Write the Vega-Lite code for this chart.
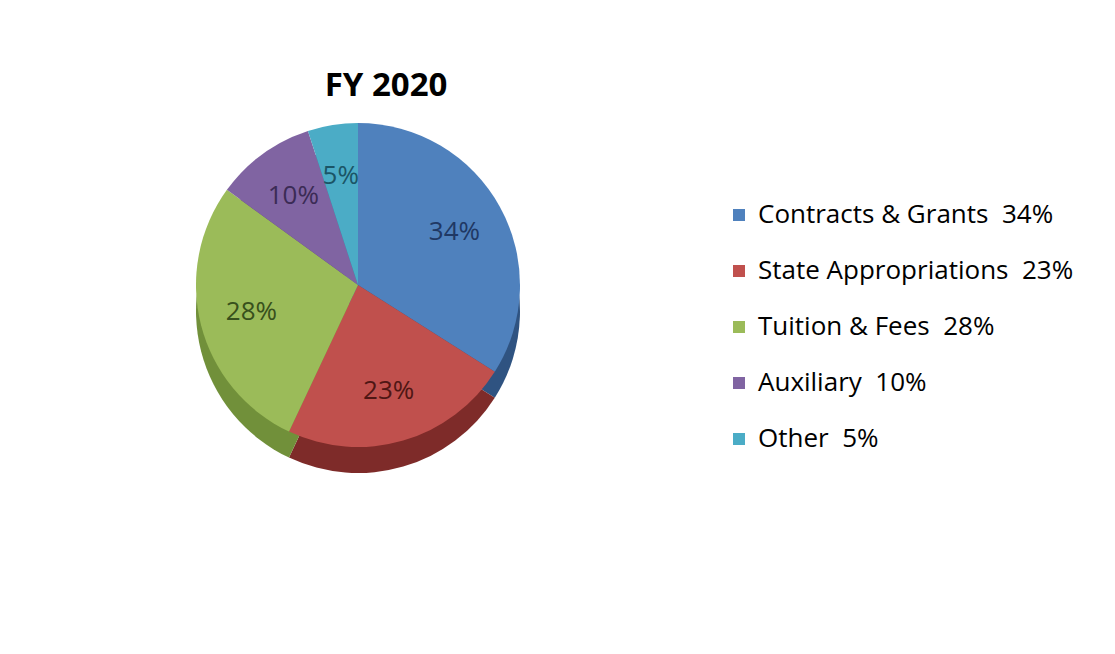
{
  "$schema": "https://vega.github.io/schema/vega-lite/v6.json",
  "autosize": "none",
  "width": 716,
  "height": 370,
  "padding": {"left": 0, "top": 100, "right": 399, "bottom": 184},
  "background": "white",
  "config": {"view": {"stroke": null}, "font": "Open Sans"},
  "title": {"text": "FY 2020", "fontSize": 33, "fontWeight": "bold", "font": "Open Sans", "color": "#000000", "anchor": "middle", "dx": 28, "offset": -3},
  "data": {"values": [
    {"source": "Contracts & Grants", "legendLabel": "Contracts & Grants\u00a0\u00a034%", "share": 0.34, "order": 1},
    {"source": "State Appropriations", "legendLabel": "State Appropriations\u00a0\u00a023%", "share": 0.23, "order": 2},
    {"source": "Tuition & Fees", "legendLabel": "Tuition & Fees\u00a0\u00a028%", "share": 0.28, "order": 3},
    {"source": "Auxiliary", "legendLabel": "Auxiliary\u00a0\u00a010%", "share": 0.10, "order": 4},
    {"source": "Other", "legendLabel": "Other\u00a0\u00a05%", "share": 0.05, "order": 5}
  ]},
  "layer": [
    {
      "mark": {"type": "arc", "outerRadius": 162, "yOffset": 26},
      "encoding": {
        "theta": {"field": "share", "type": "quantitative", "stack": true},
        "order": {"field": "order", "type": "quantitative"},
        "fill": {"field": "source", "type": "nominal", "legend": null,
          "scale": {"domain": ["Contracts & Grants", "State Appropriations", "Tuition & Fees", "Auxiliary", "Other"],
                    "range": ["#2f5381", "#7e2b29", "#71903a", "#5b4578", "#2f8098"]}}
      }
    },
    {
      "mark": {"type": "arc", "outerRadius": 162},
      "encoding": {
        "theta": {"field": "share", "type": "quantitative", "stack": true},
        "order": {"field": "order", "type": "quantitative"},
        "color": {"field": "legendLabel", "type": "nominal",
          "scale": {"domain": ["Contracts & Grants\u00a0\u00a034%", "State Appropriations\u00a0\u00a023%", "Tuition & Fees\u00a0\u00a028%", "Auxiliary\u00a0\u00a010%", "Other\u00a0\u00a05%"],
                    "range": ["#4f81bd", "#c0504d", "#9bbb59", "#8064a2", "#4bacc6"]},
          "legend": {"orient": "none", "legendX": 726, "legendY": 102, "title": null, "symbolType": "square", "symbolSize": 144,
            "symbolStrokeWidth": 0, "labelFontSize": 26, "labelFont": "Open Sans", "labelColor": "#000000", "rowPadding": 30,
            "labelOffset": 6, "labelLimit": 0, "padding": 0}}
      }
    },
    {
      "mark": {"type": "text", "radius": 110, "fontSize": 26, "font": "Open Sans"},
      "encoding": {
        "theta": {"field": "share", "type": "quantitative", "stack": true},
        "order": {"field": "order", "type": "quantitative"},
        "text": {"field": "share", "type": "quantitative", "format": ".0%"},
        "fill": {"field": "source", "type": "nominal", "legend": null,
          "scale": {"domain": ["Contracts & Grants", "State Appropriations", "Tuition & Fees", "Auxiliary", "Other"],
                    "range": ["#1f3864", "#4f1614", "#38501c", "#3b2b55", "#1b5566"]}}
      }
    }
  ],
  "resolve": {"scale": {"fill": "independent"}}
}
